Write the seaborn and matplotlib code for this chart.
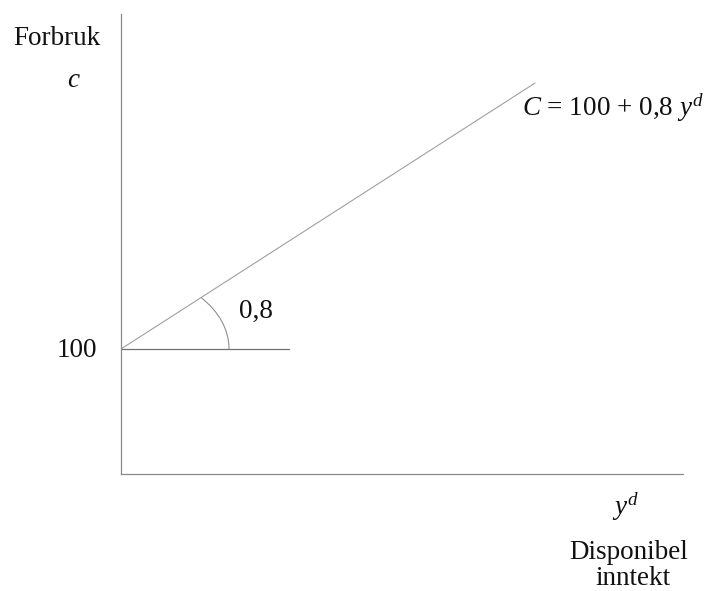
import matplotlib
matplotlib.use("Agg")
import matplotlib.pyplot as plt
from matplotlib.patches import Arc
import seaborn as sns
import pandas as pd

# Data
yd_line = [0, 266]          # disposable income
c_line = [100, 312.8]       # consumption C = 100 + 0.8 yd
yd_hline = [0, 108]
c_hline = [100, 100]
intercept = 100
slope_label = "0,8"
x_max = 361
y_max = 368

sns.set_style("white")
plt.rcParams['font.family'] = ['Liberation Serif', 'DejaVu Serif']
plt.rcParams['mathtext.fontset'] = 'custom'
plt.rcParams['mathtext.rm'] = 'Liberation Serif'
plt.rcParams['mathtext.it'] = 'Liberation Serif:italic'

fig = plt.figure(figsize=(7.05, 5.91), dpi=100)
W, H = 705, 591
ax = fig.add_axes([121 / W, (H - 474) / H, (683 - 121) / W, (474 - 14) / H])

df = pd.DataFrame({"yd": yd_line, "c": c_line})
sns.lineplot(data=df, x="yd", y="c", ax=ax, color="#a0a0a0", lw=0.8)
dfh = pd.DataFrame({"yd": yd_hline, "c": c_hline})
sns.lineplot(data=dfh, x="yd", y="c", ax=ax, color="#707070", lw=0.9)

arc = Arc((0, intercept), width=138.8, height=122.6, theta1=0, theta2=38.66,
          color="#909090", lw=0.8)
ax.add_patch(arc)

ax.set_xlim(0, x_max)
ax.set_ylim(0, y_max)
ax.set_xticks([])
ax.set_yticks([])
ax.set_xlabel("")
ax.set_ylabel("")
for s in ["top", "right"]:
    ax.spines[s].set_visible(False)
for s in ["left", "bottom"]:
    ax.spines[s].set_color("#8a8a8a")
    ax.spines[s].set_linewidth(0.9)

fs = 19.5
col = "#111111"
def t(x, y, s, ha="left", **kw):
    fig.text(x / W, 1 - y / H, s, fontsize=fs, ha=ha, va="baseline", color=col, **kw)

t(13, 45, "Forbruk")
t(73, 87, "c", ha="center", style="italic")
t(97, 357, "100", ha="right")
t(256, 318, slope_label, ha="center")
t(522, 116, r"$C$ = 100 + 0,8 $y^d$")
t(625, 515, r"$y^d$", ha="center")
t(629, 559, "Disponibel", ha="center")
t(633, 585, "inntekt", ha="center")

fig.savefig("out.png", dpi=100)
